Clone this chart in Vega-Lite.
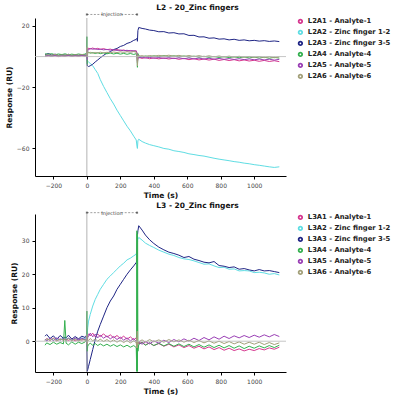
{
  "$schema": "https://vega.github.io/schema/vega-lite/v6.json",
  "padding": {"left": 5, "top": 3, "right": 4, "bottom": 2},
  "background": "white",
  "datasets": {
    "l2": [
      {"t":-250,"A1":0.2,"A2":0.6,"A3":1.2,"A4":1.8,"A5":0.4,"A6":0.9},
      {"t":-230,"A1":0.5,"A2":0.9,"A3":2.0,"A4":1.5,"A5":0.7,"A6":1.2},
      {"t":-210,"A1":0.1,"A2":0.4,"A3":1.0,"A4":1.9,"A5":0.3,"A6":0.8},
      {"t":-190,"A1":0.6,"A2":1.1,"A3":1.6,"A4":1.2,"A5":0.9,"A6":1.4},
      {"t":-170,"A1":0.0,"A2":0.5,"A3":0.8,"A4":1.7,"A5":0.2,"A6":0.7},
      {"t":-150,"A1":0.4,"A2":0.8,"A3":1.4,"A4":1.3,"A5":0.6,"A6":1.1},
      {"t":-130,"A1":0.2,"A2":0.6,"A3":0.9,"A4":1.8,"A5":0.5,"A6":0.9},
      {"t":-110,"A1":0.7,"A2":1.0,"A3":1.5,"A4":1.1,"A5":0.8,"A6":1.3},
      {"t":-90,"A1":0.1,"A2":0.5,"A3":0.7,"A4":1.6,"A5":0.3,"A6":0.8},
      {"t":-70,"A1":0.5,"A2":0.9,"A3":1.3,"A4":1.2,"A5":0.7,"A6":1.2},
      {"t":-50,"A1":0.2,"A2":0.7,"A3":0.8,"A4":1.7,"A5":0.4,"A6":0.9},
      {"t":-30,"A1":0.6,"A2":1.0,"A3":1.4,"A4":1.3,"A5":0.8,"A6":1.3},
      {"t":-10,"A1":0.3,"A2":0.8,"A3":1.0,"A4":1.6,"A5":0.5,"A6":1.0},
      {"t":-2,"A1":0.5,"A2":1.0,"A3":1.2,"A4":2.5,"A5":0.6,"A6":1.2},
      {"t":0,"A1":3,"A2":2,"A3":-2,"A4":13,"A5":4,"A6":6},
      {"t":2,"A1":-1,"A2":-3,"A3":-6,"A4":-5,"A5":-2,"A6":0},
      {"t":5,"A1":4.5,"A2":-3,"A3":-6,"A4":3,"A5":5,"A6":3},
      {"t":10,"A1":5.5,"A2":-3.5,"A3":-6.5,"A4":2.8,"A5":4.5,"A6":2.5},
      {"t":20,"A1":5,"A2":-4.5,"A3":-6,"A4":2.2,"A5":5.2,"A6":2.8},
      {"t":35,"A1":5.6,"A2":-6,"A3":-5,"A4":2.6,"A5":4.8,"A6":2.2},
      {"t":50,"A1":4.9,"A2":-8.5,"A3":-3.5,"A4":2.0,"A5":5.1,"A6":2.7},
      {"t":65,"A1":5.4,"A2":-11,"A3":-2.2,"A4":2.5,"A5":4.6,"A6":2.3},
      {"t":80,"A1":4.7,"A2":-15,"A3":-0.8,"A4":1.9,"A5":4.9,"A6":2.9},
      {"t":100,"A1":5.2,"A2":-19.5,"A3":0.8,"A4":2.4,"A5":4.4,"A6":2.4},
      {"t":120,"A1":4.5,"A2":-23.5,"A3":2.3,"A4":1.8,"A5":4.7,"A6":2.8},
      {"t":140,"A1":4.9,"A2":-27.5,"A3":3.2,"A4":2.3,"A5":4.2,"A6":2.5},
      {"t":160,"A1":4.2,"A2":-31,"A3":4.6,"A4":1.7,"A5":4.5,"A6":3.0},
      {"t":180,"A1":4.6,"A2":-35,"A3":5.3,"A4":2.2,"A5":4.0,"A6":2.6},
      {"t":200,"A1":3.9,"A2":-38.5,"A3":6.6,"A4":1.6,"A5":4.3,"A6":3.1},
      {"t":220,"A1":4.3,"A2":-42,"A3":7.3,"A4":2.1,"A5":3.8,"A6":2.7},
      {"t":240,"A1":3.6,"A2":-45.5,"A3":8.6,"A4":1.5,"A5":4.1,"A6":3.2},
      {"t":260,"A1":4.0,"A2":-48.5,"A3":9.3,"A4":2.0,"A5":3.6,"A6":2.8},
      {"t":280,"A1":3.4,"A2":-52,"A3":10.6,"A4":1.4,"A5":3.9,"A6":3.3},
      {"t":295,"A1":3.8,"A2":-54.5,"A3":11.2,"A4":1.9,"A5":3.5,"A6":2.9},
      {"t":300,"A1":2,"A2":-59,"A3":12,"A4":0,"A5":2,"A6":1},
      {"t":302,"A1":-3,"A2":-60,"A3":10,"A4":-7,"A5":-4,"A6":-6},
      {"t":305,"A1":0,"A2":-55,"A3":17,"A4":2,"A5":-1,"A6":1},
      {"t":310,"A1":-0.5,"A2":-54,"A3":19,"A4":0.5,"A5":-0.8,"A6":0.2},
      {"t":330,"A1":-1.2,"A2":-55.5,"A3":18.4,"A4":-0.3,"A5":-0.4,"A6":0.6},
      {"t":350,"A1":-0.6,"A2":-56.5,"A3":18.0,"A4":0.4,"A5":-1.0,"A6":0.1},
      {"t":375,"A1":-1.4,"A2":-57.5,"A3":17.3,"A4":-0.2,"A5":-0.5,"A6":0.7},
      {"t":400,"A1":-0.8,"A2":-58.2,"A3":17.0,"A4":0.5,"A5":-1.1,"A6":0.2},
      {"t":430,"A1":-1.5,"A2":-59,"A3":16.2,"A4":-0.1,"A5":-0.6,"A6":0.8},
      {"t":460,"A1":-0.9,"A2":-60,"A3":16.3,"A4":0.6,"A5":-1.2,"A6":0.3},
      {"t":490,"A1":-1.6,"A2":-60.5,"A3":15.4,"A4":0.0,"A5":-0.7,"A6":0.9},
      {"t":520,"A1":-1.0,"A2":-61.5,"A3":15.6,"A4":0.5,"A5":-1.3,"A6":0.2},
      {"t":550,"A1":-1.8,"A2":-62,"A3":14.8,"A4":-0.2,"A5":-0.8,"A6":0.8},
      {"t":580,"A1":-1.2,"A2":-62.6,"A3":14.9,"A4":0.4,"A5":-1.4,"A6":0.1},
      {"t":610,"A1":-2.0,"A2":-63.5,"A3":13.8,"A4":-0.3,"A5":-0.9,"A6":0.7},
      {"t":640,"A1":-1.4,"A2":-64,"A3":13.9,"A4":0.3,"A5":-1.5,"A6":0.0},
      {"t":670,"A1":-2.2,"A2":-64.6,"A3":12.8,"A4":-0.4,"A5":-1.0,"A6":0.6},
      {"t":700,"A1":-1.6,"A2":-65,"A3":12.9,"A4":0.2,"A5":-1.6,"A6":-0.1},
      {"t":730,"A1":-2.3,"A2":-65.7,"A3":12.0,"A4":-0.5,"A5":-1.1,"A6":0.5},
      {"t":760,"A1":-1.7,"A2":-66.4,"A3":12.2,"A4":0.1,"A5":-1.7,"A6":-0.2},
      {"t":790,"A1":-2.5,"A2":-67,"A3":11.4,"A4":-0.6,"A5":-1.2,"A6":0.4},
      {"t":820,"A1":-1.9,"A2":-67.5,"A3":11.6,"A4":0.0,"A5":-1.8,"A6":-0.3},
      {"t":850,"A1":-2.6,"A2":-68,"A3":10.9,"A4":-0.7,"A5":-1.3,"A6":0.3},
      {"t":880,"A1":-2.0,"A2":-68.6,"A3":11.3,"A4":-0.1,"A5":-1.9,"A6":-0.4},
      {"t":910,"A1":-2.8,"A2":-69,"A3":10.6,"A4":-0.8,"A5":-1.4,"A6":0.2},
      {"t":940,"A1":-2.2,"A2":-69.6,"A3":10.9,"A4":-0.2,"A5":-2.0,"A6":-0.5},
      {"t":970,"A1":-2.9,"A2":-70,"A3":10.3,"A4":-0.9,"A5":-1.5,"A6":0.1},
      {"t":1000,"A1":-2.4,"A2":-70.6,"A3":10.6,"A4":-0.3,"A5":-2.1,"A6":-0.6},
      {"t":1030,"A1":-3.1,"A2":-71,"A3":10.1,"A4":-1.0,"A5":-1.6,"A6":0.0},
      {"t":1060,"A1":-2.5,"A2":-71.5,"A3":10.4,"A4":-0.4,"A5":-2.2,"A6":-0.7},
      {"t":1090,"A1":-3.2,"A2":-72,"A3":9.9,"A4":-1.1,"A5":-1.7,"A6":-0.1},
      {"t":1120,"A1":-2.7,"A2":-72.4,"A3":10.2,"A4":-0.5,"A5":-2.3,"A6":-0.8},
      {"t":1150,"A1":-3.3,"A2":-72,"A3":9.8,"A4":-1.0,"A5":-1.8,"A6":-0.2}
    ],
    "l3": [
      {"t":-250,"A1":0.3,"A2":0.5,"A3":1.5,"A4":-1.2,"A5":0.6,"A6":0.2},
      {"t":-240,"A1":0.8,"A2":0.2,"A3":2.0,"A4":-0.5,"A5":0.1,"A6":0.7},
      {"t":-220,"A1":0.2,"A2":0.9,"A3":0.8,"A4":-1.0,"A5":0.9,"A6":0.3},
      {"t":-200,"A1":0.9,"A2":0.3,"A3":1.6,"A4":-0.3,"A5":0.2,"A6":0.8},
      {"t":-180,"A1":0.1,"A2":0.8,"A3":0.5,"A4":-0.9,"A5":1.0,"A6":0.1},
      {"t":-160,"A1":0.7,"A2":0.4,"A3":1.7,"A4":-0.4,"A5":0.3,"A6":0.6},
      {"t":-140,"A1":0.3,"A2":1.0,"A3":0.9,"A4":-0.8,"A5":0.8,"A6":0.4},
      {"t":-132,"A1":0.5,"A2":0.7,"A3":1.2,"A4":6.2,"A5":0.6,"A6":0.5},
      {"t":-124,"A1":0.6,"A2":0.5,"A3":1.0,"A4":-0.6,"A5":0.4,"A6":0.3},
      {"t":-110,"A1":0.2,"A2":0.9,"A3":1.8,"A4":-1.1,"A5":0.9,"A6":0.7},
      {"t":-90,"A1":0.8,"A2":0.3,"A3":0.6,"A4":-0.2,"A5":0.2,"A6":0.2},
      {"t":-70,"A1":0.1,"A2":0.8,"A3":1.4,"A4":-0.9,"A5":1.0,"A6":0.6},
      {"t":-50,"A1":0.7,"A2":0.4,"A3":0.7,"A4":-0.3,"A5":0.3,"A6":0.1},
      {"t":-30,"A1":0.3,"A2":1.0,"A3":1.5,"A4":-0.7,"A5":0.9,"A6":0.5},
      {"t":-10,"A1":0.8,"A2":0.6,"A3":1.1,"A4":-0.2,"A5":0.4,"A6":0.3},
      {"t":-2,"A1":0.6,"A2":1.2,"A3":1.8,"A4":0.5,"A5":0.7,"A6":0.6},
      {"t":0,"A1":1.5,"A2":3,"A3":-2,"A4":9,"A5":1.0,"A6":2.0},
      {"t":2,"A1":-1.0,"A2":2.0,"A3":-9,"A4":-3,"A5":-0.5,"A6":-1},
      {"t":5,"A1":1.8,"A2":4,"A3":-8.5,"A4":-1.5,"A5":1.2,"A6":0.5},
      {"t":10,"A1":2.2,"A2":6,"A3":-7.5,"A4":-1.0,"A5":1.5,"A6":0.2},
      {"t":20,"A1":1.6,"A2":8,"A3":-5.5,"A4":-0.6,"A5":2.4,"A6":0.8},
      {"t":35,"A1":2.4,"A2":10.5,"A3":-2.5,"A4":-1.2,"A5":1.3,"A6":0.1},
      {"t":50,"A1":1.3,"A2":12.5,"A3":0.5,"A4":-0.7,"A5":2.1,"A6":0.7},
      {"t":65,"A1":2.1,"A2":14,"A3":3,"A4":-1.3,"A5":1.0,"A6":0.0},
      {"t":80,"A1":1.4,"A2":15.5,"A3":5,"A4":-0.8,"A5":1.8,"A6":0.6},
      {"t":100,"A1":2.2,"A2":17,"A3":7.5,"A4":-1.4,"A5":0.9,"A6":-0.1},
      {"t":120,"A1":1.2,"A2":18.5,"A3":10,"A4":-0.9,"A5":1.6,"A6":0.5},
      {"t":140,"A1":1.9,"A2":19.5,"A3":12,"A4":-1.5,"A5":0.7,"A6":-0.2},
      {"t":160,"A1":1.0,"A2":20.5,"A3":13.5,"A4":-1.0,"A5":1.4,"A6":0.4},
      {"t":180,"A1":1.7,"A2":21.5,"A3":15.5,"A4":-1.6,"A5":0.5,"A6":-0.3},
      {"t":200,"A1":0.8,"A2":22.5,"A3":17,"A4":-1.1,"A5":1.2,"A6":0.3},
      {"t":220,"A1":1.5,"A2":23.3,"A3":18.5,"A4":-1.7,"A5":0.3,"A6":-0.4},
      {"t":240,"A1":0.6,"A2":24.3,"A3":20,"A4":-1.2,"A5":1.0,"A6":0.2},
      {"t":260,"A1":1.3,"A2":24.8,"A3":21.3,"A4":-1.8,"A5":0.1,"A6":-0.5},
      {"t":280,"A1":0.4,"A2":25.5,"A3":22.5,"A4":-1.3,"A5":0.8,"A6":0.1},
      {"t":295,"A1":1.0,"A2":26,"A3":23.5,"A4":-1.9,"A5":-0.1,"A6":-0.4},
      {"t":298,"A1":0.5,"A2":27,"A3":24,"A4":-9,"A5":-1,"A6":-2},
      {"t":299,"A1":0.2,"A2":27.5,"A3":25,"A4":33,"A5":-0.5,"A6":1},
      {"t":300,"A1":-0.5,"A2":28,"A3":27,"A4":-9,"A5":-1,"A6":-2},
      {"t":301,"A1":-1.0,"A2":28.5,"A3":29,"A4":32,"A5":0,"A6":3},
      {"t":302,"A1":-0.8,"A2":29,"A3":31,"A4":-9,"A5":-0.6,"A6":-1},
      {"t":303,"A1":-0.6,"A2":29.8,"A3":32,"A4":30,"A5":-0.4,"A6":0},
      {"t":305,"A1":-0.5,"A2":30.5,"A3":33,"A4":-3,"A5":-0.8,"A6":-1},
      {"t":310,"A1":-0.8,"A2":31,"A3":34.5,"A4":-1.0,"A5":-0.2,"A6":-0.2},
      {"t":330,"A1":-0.3,"A2":30.2,"A3":33.2,"A4":-0.4,"A5":-0.9,"A6":0.4},
      {"t":350,"A1":-1.1,"A2":29.3,"A3":31.7,"A4":-1.2,"A5":-0.1,"A6":-0.3},
      {"t":375,"A1":-0.5,"A2":28.6,"A3":30.3,"A4":-0.5,"A5":-0.8,"A6":0.5},
      {"t":400,"A1":-1.3,"A2":28.0,"A3":29.2,"A4":-1.3,"A5":0.1,"A6":-0.2},
      {"t":430,"A1":-0.7,"A2":27.2,"A3":28.1,"A4":-0.6,"A5":-0.6,"A6":0.4},
      {"t":460,"A1":-1.5,"A2":26.6,"A3":27.3,"A4":-1.4,"A5":0.3,"A6":-0.3},
      {"t":490,"A1":-0.9,"A2":26.0,"A3":26.6,"A4":-0.7,"A5":-0.4,"A6":0.5},
      {"t":520,"A1":-1.7,"A2":25.6,"A3":26.2,"A4":-1.5,"A5":0.5,"A6":-0.2},
      {"t":550,"A1":-1.1,"A2":25.0,"A3":25.7,"A4":-0.8,"A5":-0.2,"A6":0.4},
      {"t":580,"A1":-1.9,"A2":24.6,"A3":25.0,"A4":-1.6,"A5":0.7,"A6":-0.3},
      {"t":610,"A1":-1.3,"A2":24.4,"A3":25.3,"A4":-0.9,"A5":0.0,"A6":0.3},
      {"t":640,"A1":-2.1,"A2":24.0,"A3":24.5,"A4":-1.7,"A5":0.9,"A6":-0.4},
      {"t":670,"A1":-1.5,"A2":23.5,"A3":24.1,"A4":-1.0,"A5":0.2,"A6":0.2},
      {"t":700,"A1":-2.3,"A2":23.0,"A3":23.6,"A4":-1.8,"A5":1.1,"A6":-0.5},
      {"t":730,"A1":-1.7,"A2":23.1,"A3":23.4,"A4":-1.1,"A5":0.4,"A6":0.1},
      {"t":760,"A1":-2.5,"A2":22.5,"A3":23.8,"A4":-1.9,"A5":1.3,"A6":-0.6},
      {"t":790,"A1":-1.9,"A2":22.0,"A3":22.6,"A4":-1.2,"A5":0.6,"A6":0.0},
      {"t":820,"A1":-2.7,"A2":22.1,"A3":22.4,"A4":-2.0,"A5":1.5,"A6":-0.7},
      {"t":850,"A1":-2.1,"A2":21.5,"A3":22.0,"A4":-1.3,"A5":0.8,"A6":-0.1},
      {"t":880,"A1":-2.8,"A2":21.6,"A3":22.2,"A4":-2.1,"A5":1.6,"A6":-0.8},
      {"t":910,"A1":-2.3,"A2":21.0,"A3":21.5,"A4":-1.4,"A5":1.0,"A6":-0.2},
      {"t":940,"A1":-2.9,"A2":21.1,"A3":21.7,"A4":-2.2,"A5":1.7,"A6":-0.9},
      {"t":970,"A1":-2.4,"A2":21.0,"A3":21.3,"A4":-1.5,"A5":1.1,"A6":-0.3},
      {"t":1000,"A1":-2.8,"A2":20.5,"A3":21.0,"A4":-2.1,"A5":1.8,"A6":-0.9},
      {"t":1030,"A1":-2.2,"A2":20.6,"A3":21.4,"A4":-1.4,"A5":1.2,"A6":-0.3},
      {"t":1060,"A1":-2.6,"A2":20.4,"A3":21.0,"A4":-2.0,"A5":1.9,"A6":-1.0},
      {"t":1090,"A1":-2.0,"A2":20.0,"A3":21.1,"A4":-1.3,"A5":1.3,"A6":-0.4},
      {"t":1120,"A1":-2.4,"A2":20.2,"A3":20.8,"A4":-1.9,"A5":2.0,"A6":-1.0},
      {"t":1150,"A1":-1.8,"A2":19.8,"A3":20.5,"A4":-1.2,"A5":1.4,"A6":-0.5}
    ]
  },
  "vconcat": [
    {
      "title": {"text": "L2 - 20_Zinc fingers"},
      "width": 251,
      "height": 158,
      "layer": [
        {
          "data": {"name": "l2"},
          "transform": [{"fold": ["A1", "A2", "A3", "A4", "A5", "A6"], "as": ["s", "v"]}],
          "mark": {"type": "line", "strokeWidth": 1, "interpolate": "linear"},
          "encoding": {
            "x": {
              "field": "t", "type": "quantitative",
              "scale": {"domain": [-310, 1190], "nice": false, "zero": false},
              "axis": {"title": "Time (s)", "values": [-200, 0, 200, 400, 600, 800, 1000], "format": "d", "labelOverlap": false}
            },
            "y": {
              "field": "v", "type": "quantitative",
              "scale": {"domain": [-78, 25.2], "nice": false, "zero": false},
              "axis": {"title": "Response (RU)", "values": [-60, -40, -20, 0, 20], "format": "d", "labelOverlap": false}
            },
            "color": {
              "field": "s", "type": "nominal",
              "scale": {"domain": ["A1", "A2", "A3", "A4", "A5", "A6"], "range": ["#d6378f", "#5fdde3", "#1f2585", "#34b04f", "#9a3fb5", "#a3a07a"]},
              "legend": {"title": null, "labelExpr": "{'A1':'L2A1 - Analyte-1','A2':'L2A2 - Zinc finger 1-2','A3':'L2A3 - Zinc finger 3-5','A4':'L2A4 - Analyte-4','A5':'L2A5 - Analyte-5','A6':'L2A6 - Analyte-6'}[datum.label]"}
            }
          }
        },
        {
          "data": {"values": [{"v": 0}]},
          "mark": {"type": "rule", "color": "#b8b8b8", "strokeWidth": 1, "opacity": 0.8},
          "encoding": {"y": {"field": "v", "type": "quantitative"}}
        },
        {
          "data": {"values": [{"t": 0}]},
          "mark": {"type": "rule", "color": "#a0a0a0", "strokeWidth": 0.8},
          "encoding": {"x": {"field": "t", "type": "quantitative"}}
        },
        {
          "data": {"values": [{"t": 0, "t2": 95, "v": 27.5}, {"t": 205, "t2": 300, "v": 27.5}]},
          "mark": {"type": "rule", "color": "#777", "strokeWidth": 0.7, "strokeDash": [2, 1.5]},
          "encoding": {"x": {"field": "t", "type": "quantitative"}, "x2": {"field": "t2"}, "y": {"field": "v", "type": "quantitative"}}
        },
        {
          "data": {"values": [{"t": 0, "v": 27.5}, {"t": 300, "v": 27.5}]},
          "mark": {"type": "point", "shape": "square", "size": 4, "filled": true, "color": "#333"},
          "encoding": {"x": {"field": "t", "type": "quantitative"}, "y": {"field": "v", "type": "quantitative"}}
        },
        {
          "data": {"values": [{"t": 150, "v": 27.5, "label": "Injection"}]},
          "mark": {"type": "text", "font": "DejaVu Sans", "fontSize": 5, "color": "#444", "baseline": "middle"},
          "encoding": {"x": {"field": "t", "type": "quantitative"}, "y": {"field": "v", "type": "quantitative"}, "text": {"field": "label"}}
        }
      ]
    },
    {
      "title": {"text": "L3 - 20_Zinc fingers"},
      "width": 251,
      "height": 158,
      "layer": [
        {
          "data": {"name": "l3"},
          "transform": [{"fold": ["A1", "A2", "A3", "A4", "A5", "A6"], "as": ["s", "v"]}],
          "mark": {"type": "line", "strokeWidth": 1, "interpolate": "linear"},
          "encoding": {
            "x": {
              "field": "t", "type": "quantitative",
              "scale": {"domain": [-310, 1190], "nice": false, "zero": false},
              "axis": {"title": "Time (s)", "values": [-200, 0, 200, 400, 600, 800, 1000], "format": "d", "labelOverlap": false}
            },
            "y": {
              "field": "v", "type": "quantitative",
              "scale": {"domain": [-9.2, 38], "nice": false, "zero": false},
              "axis": {"title": "Response (RU)", "values": [0, 10, 20, 30], "format": "d", "labelOverlap": false}
            },
            "color": {
              "field": "s", "type": "nominal",
              "scale": {"domain": ["A1", "A2", "A3", "A4", "A5", "A6"], "range": ["#d6378f", "#5fdde3", "#1f2585", "#34b04f", "#9a3fb5", "#a3a07a"]},
              "legend": {"title": null, "labelExpr": "{'A1':'L3A1 - Analyte-1','A2':'L3A2 - Zinc finger 1-2','A3':'L3A3 - Zinc finger 3-5','A4':'L3A4 - Analyte-4','A5':'L3A5 - Analyte-5','A6':'L3A6 - Analyte-6'}[datum.label]"}
            }
          }
        },
        {
          "data": {"values": [{"v": 0}]},
          "mark": {"type": "rule", "color": "#b8b8b8", "strokeWidth": 1, "opacity": 0.8},
          "encoding": {"y": {"field": "v", "type": "quantitative"}}
        },
        {
          "data": {"values": [{"t": 0}]},
          "mark": {"type": "rule", "color": "#a0a0a0", "strokeWidth": 0.8},
          "encoding": {"x": {"field": "t", "type": "quantitative"}}
        },
        {
          "data": {"values": [{"t": 0, "t2": 95, "v": 38.4}, {"t": 205, "t2": 300, "v": 38.4}]},
          "mark": {"type": "rule", "color": "#777", "strokeWidth": 0.7, "strokeDash": [2, 1.5]},
          "encoding": {"x": {"field": "t", "type": "quantitative"}, "x2": {"field": "t2"}, "y": {"field": "v", "type": "quantitative"}}
        },
        {
          "data": {"values": [{"t": 0, "v": 38.4}, {"t": 300, "v": 38.4}]},
          "mark": {"type": "point", "shape": "square", "size": 4, "filled": true, "color": "#333"},
          "encoding": {"x": {"field": "t", "type": "quantitative"}, "y": {"field": "v", "type": "quantitative"}}
        },
        {
          "data": {"values": [{"t": 150, "v": 38.4, "label": "Injection"}]},
          "mark": {"type": "text", "font": "DejaVu Sans", "fontSize": 5, "color": "#444", "baseline": "middle"},
          "encoding": {"x": {"field": "t", "type": "quantitative"}, "y": {"field": "v", "type": "quantitative"}, "text": {"field": "label"}}
        }
      ]
    }
  ],
  "spacing": 3,
  "resolve": {"scale": {"color": "independent", "y": "independent", "x": "independent"}, "legend": {"color": "independent"}},
  "config": {
    "view": {"stroke": null},
    "axis": {
      "grid": false,
      "domainColor": "#000",
      "domainWidth": 1,
      "tickColor": "#000",
      "tickSize": 3,
      "labelFont": "DejaVu Sans",
      "labelFontSize": 6,
      "labelColor": "#444",
      "labelPadding": 3,
      "labelOverlap": false,
      "titleFont": "DejaVu Sans",
      "titleFontSize": 7.5,
      "titleFontWeight": "bold",
      "titleColor": "#111",
      "titlePadding": 3
    },
    "legend": {
      "orient": "right",
      "offset": 11,
      "padding": 0,
      "symbolType": "circle",
      "symbolSize": 12,
      "symbolStrokeWidth": 1.8,
      "labelFont": "DejaVu Sans",
      "labelFontSize": 6.8,
      "labelFontWeight": "bold",
      "labelColor": "#222",
      "rowPadding": 0,
      "labelOffset": 4
    },
    "title": {
      "font": "DejaVu Sans",
      "fontSize": 7.5,
      "fontWeight": "bold",
      "color": "#111",
      "anchor": "middle",
      "offset": 1,
      "dx": 37
    }
  }
}
